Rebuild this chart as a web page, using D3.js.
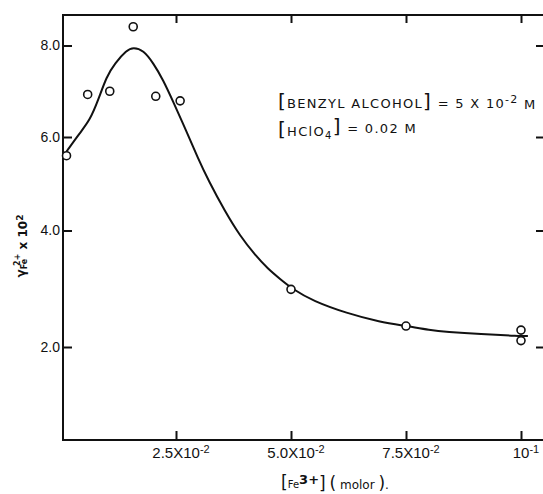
<!DOCTYPE html>
<html>
<head>
<meta charset="utf-8">
<script src="https://cdn.jsdelivr.net/npm/d3@7"></script>
<style>
  body { margin: 0; background: #fff; }
  svg { display: block; font-family: "DejaVu Sans", sans-serif; }
  .tick line { stroke: #111; stroke-width: 2; }
  .tick text { fill: #111; font-size: 14px; }
</style>
</head>
<body>
<div id="chart"></div>
<script>
const xTicks = [0.025, 0.05, 0.075, 0.1];
const xTickBase = ["2.5X10", "5.0X10", "7.5X10", "10"];
const xTickExp = ["-2", "-2", "-2", "-1"];
const yTicks = [2, 4, 6, 8];
const yTickLabels = ["2.0", "4.0", "6.0", "8.0"];

// measured points
const obsX = [0.0012, 0.0058, 0.0106, 0.0157, 0.0206, 0.0259, 0.05, 0.075, 0.1, 0.1];
const obsY = [5.6, 6.93, 7.0, 8.41, 6.89, 6.79, 2.99, 2.36, 2.29, 2.11];

// hand drawn curve
const fitX = [0.0012, 0.0041, 0.0063, 0.0081, 0.0099, 0.0117, 0.0143, 0.0157, 0.0179, 0.0201,
              0.0222, 0.0244, 0.0273, 0.0298, 0.0320, 0.0357, 0.0389, 0.0422, 0.0450, 0.0476,
              0.0504, 0.0548, 0.0621, 0.0693, 0.0752, 0.0802, 0.0838, 0.0911, 0.0998, 0.1015];
const fitY = [5.69, 6.09, 6.37, 6.81, 7.32, 7.61, 7.90, 7.96, 7.90, 7.61,
              7.25, 6.77, 6.12, 5.54, 5.08, 4.40, 3.91, 3.58, 3.34, 3.17,
              2.99, 2.79, 2.58, 2.43, 2.36, 2.29, 2.26, 2.22, 2.19, 2.19];

const width = 543, height = 494;
const frame = { left: 63, top: 15, right: 545, bottom: 440 };

const x = d3.scaleLinear().domain([0, 0.1]).range([61, 521]);
// the scanned y axis is not evenly spaced, so map it piece by piece
const y = d3.scaleLinear().domain(yTicks).range([347, 230.5, 137, 45.5]);

const svg = d3.select("#chart").append("svg")
    .attr("width", width)
    .attr("height", height);

// frame
svg.append("path")
    .attr("d", `M${frame.right},${frame.top}H${frame.left}V${frame.bottom}H${frame.right}`)
    .attr("fill", "none")
    .attr("stroke", "#111")
    .attr("stroke-width", 2);

const bottomAxis = svg.append("g")
    .attr("transform", `translate(0,${frame.bottom})`)
    .call(d3.axisBottom(x).tickValues(xTicks).tickSize(-9).tickSizeOuter(0).tickPadding(7).tickFormat(""));
bottomAxis.select(".domain").remove();
bottomAxis.selectAll(".tick text").each(function(d, i) {
    const t = d3.select(this).attr("dx", "0.3em").style("font-size", "15px");
    t.append("tspan").text(xTickBase[i]);
    t.append("tspan").attr("dy", "-0.45em").style("font-size", "11px").text(xTickExp[i]);
});

svg.append("g")
    .attr("transform", `translate(0,${frame.top})`)
    .call(d3.axisTop(x).tickValues(xTicks).tickSize(-8).tickFormat(""))
    .select(".domain").remove();

svg.append("g")
    .attr("transform", `translate(${frame.left},0)`)
    .call(d3.axisLeft(y).tickValues(yTicks).tickSize(-9).tickSizeOuter(0).tickPadding(3)
        .tickFormat((d, i) => yTickLabels[i]))
    .select(".domain").remove();

svg.append("g")
    .attr("transform", `translate(${frame.right},0)`)
    .call(d3.axisRight(y).tickValues(yTicks).tickSize(-9).tickFormat(""))
    .select(".domain").remove();

// curve
const line = d3.line()
    .x((d, i) => x(fitX[i]))
    .y(d => y(d))
    .curve(d3.curveBasis);

svg.append("path")
    .datum(fitY)
    .attr("d", line)
    .attr("fill", "none")
    .attr("stroke", "#111")
    .attr("stroke-width", 2);

svg.selectAll("circle")
    .data(obsY)
    .enter().append("circle")
    .attr("cx", (d, i) => x(obsX[i]))
    .attr("cy", d => y(d))
    .attr("r", 4)
    .attr("fill", "#fff")
    .attr("stroke", "#111")
    .attr("stroke-width", 1.6);

// y label
const yLabel = svg.append("text")
    .attr("transform", "translate(25,246) rotate(-90)")
    .attr("text-anchor", "middle")
    .style("font-size", "12px")
    .style("font-weight", "bold")
    .attr("fill", "#111");
yLabel.append("tspan").text("γ");
yLabel.append("tspan").attr("dy", "0.3em").style("font-size", "8px").text("Fe");
yLabel.append("tspan").attr("dy", "-0.9em").attr("dx", "-0.9em").style("font-size", "8px").text("2+");
yLabel.append("tspan").attr("dy", "0.6em").text(" x 10");
yLabel.append("tspan").attr("dy", "-0.45em").style("font-size", "9px").text("2");

// x label
const xLabel = svg.append("text")
    .attr("x", 335)
    .attr("y", 488)
    .attr("text-anchor", "middle")
    .style("font-size", "12px")
    .attr("fill", "#111");
xLabel.append("tspan").style("font-size", "17px").text("[");
xLabel.append("tspan").style("font-size", "10px").text("Fe");
xLabel.append("tspan").attr("dy", "-0.3em").style("font-size", "13px").style("font-weight", "bold").text("3+");
xLabel.append("tspan").attr("dy", "0.3em").style("font-size", "17px").text("]");
xLabel.append("tspan").text("  ");
xLabel.append("tspan").style("font-size", "17px").text("(");
xLabel.append("tspan").text(" molor ");
xLabel.append("tspan").style("font-size", "17px").text(")");
xLabel.append("tspan").text(".");

// annotation
const note1 = svg.append("text")
    .attr("x", 278).attr("y", 108)
    .style("font-size", "13px")
    .style("letter-spacing", "1.3px")
    .attr("fill", "#111");
note1.append("tspan").style("font-size", "20px").text("[");
note1.append("tspan").text("BENZYL  ALCOHOL");
note1.append("tspan").style("font-size", "20px").text("]");
note1.append("tspan").text(" = 5 X 10");
note1.append("tspan").attr("dy", "-0.5em").style("font-size", "11px").text("-2");
note1.append("tspan").attr("dy", "0.5em").text(" M");

const note2 = svg.append("text")
    .attr("x", 278).attr("y", 136)
    .style("font-size", "13px")
    .style("letter-spacing", "1.3px")
    .attr("fill", "#111");
note2.append("tspan").style("font-size", "20px").text("[");
note2.append("tspan").text("HClO");
note2.append("tspan").attr("dy", "0.3em").style("font-size", "10px").text("4");
note2.append("tspan").attr("dy", "-0.3em").style("font-size", "20px").text("]");
note2.append("tspan").text(" = 0.02 M");
</script>
</body>
</html>
